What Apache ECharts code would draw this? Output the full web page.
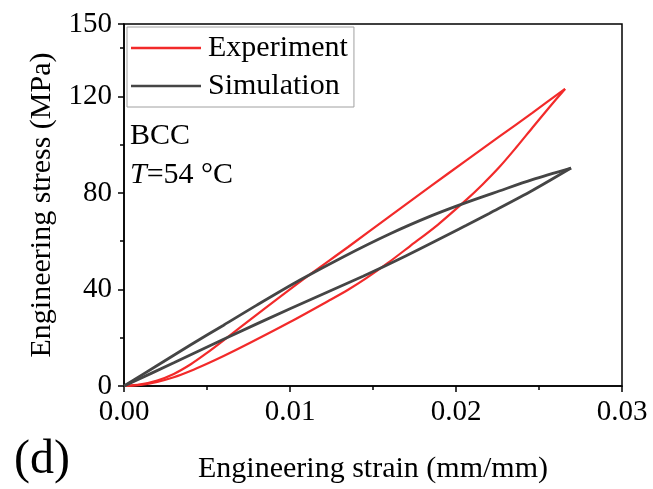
<!DOCTYPE html>
<html>
<head>
<meta charset="utf-8">
<script src="https://cdn.jsdelivr.net/npm/echarts@6/dist/echarts.min.js"></script>
<style>
html,body{margin:0;padding:0;background:#fff;}
#c{width:653px;height:489px;}
</style>
</head>
<body>
<div id="c"></div>
<script>
// ---- data ----
const expLoadStrain   = [0, 0.001, 0.002, 0.003, 0.004, 0.005, 0.006, 0.008, 0.0108, 0.0135, 0.016, 0.0185, 0.0206, 0.0226, 0.0246, 0.02657];
const expLoadStress   = [0, 0.7, 2.3, 5.0, 8.9, 13.7, 18.9, 29.6, 44.2, 57.6, 70.3, 82.9, 93.4, 103.3, 113.2, 123.1];
const expUnloadStrain = [0.02657, 0.0256, 0.0246, 0.0236, 0.0226, 0.0216, 0.0206, 0.0189, 0.0172, 0.0159, 0.0146, 0.0135, 0.0124, 0.01, 0.0076, 0.006, 0.005, 0.004, 0.003, 0.002, 0.001, 0];
const expUnloadStress = [123.1, 115.3, 107.0, 98.6, 90.6, 83.5, 77.0, 66.8, 57.8, 51.0, 44.7, 39.9, 35.6, 26.5, 17.9, 12.4, 9.2, 6.2, 3.6, 1.7, 0.5, 0];
const simLoadStrain   = [0, 0.002, 0.004, 0.006, 0.008, 0.0106, 0.0132, 0.016, 0.0185, 0.0206, 0.0226, 0.0246, 0.02693];
const simLoadStress   = [0, 8.5, 17.0, 25.2, 33.5, 43.9, 53.5, 63.0, 70.5, 76.0, 80.8, 85.5, 90.3];
const simUnloadStrain = [0.02693, 0.0246, 0.022, 0.0206, 0.017, 0.0144, 0.01, 0.006, 0.003, 0];
const simUnloadStress = [90.3, 81.0, 71.5, 66.5, 54.0, 45.5, 32.0, 19.4, 9.6, 0];

const seriesNames = ['Experiment', 'Simulation'];
const xTicks = [0, 0.01, 0.02, 0.03];
const yTicks = [0, 40, 80, 120, 150];
const annotation1 = 'BCC';
const annotation2Var = 'T';
const annotation2Rest = '=54 °C';
const panelLabel = '(d)';
const xTitle = 'Engineering strain (mm/mm)';
const yTitle = 'Engineering stress (MPa)';

const FONT = '"Liberation Serif","Times New Roman",serif';
const RED = '#f22a2a';
const GRAY = '#454545';

function pairs(xs, ys){ return xs.map((x,i)=>[x, ys[i]]); }

const chart = echarts.init(document.getElementById('c'), null, {renderer:'canvas'});

const lineSeries = (name, color, xs, ys, w) => ({
  name, type:'line', data: pairs(xs, ys), showSymbol:false, symbol:'none',
  smooth:0.3, lineStyle:{color, width:w}, itemStyle:{color}, z:3,
  xAxisIndex:0, yAxisIndex:0, animation:false
});

chart.setOption({
  animation:false,
  backgroundColor:'#fff',
  grid:{left:124, right:31, top:24, bottom:102, show:true, borderColor:'#000', borderWidth:1.5, backgroundColor:'transparent'},
  legend:{
    data: seriesNames.map(n=>({name:n})),
    orient:'vertical', left:127, top:27,
    icon:'rect', itemWidth:70, itemHeight:2.5, itemGap:8,
    padding:[6,6,6,4],
    borderColor:'#a0a0a0', borderWidth:1, backgroundColor:'#fff',
    textStyle:{fontFamily:FONT, fontSize:30, color:'#000', lineHeight:30, padding:[0,0,0,2]},
    selectedMode:false
  },
  xAxis:[{
    type:'value', min:xTicks[0], max:xTicks[xTicks.length-1], interval:xTicks[1]-xTicks[0],
    position:'bottom',
    name:xTitle, nameLocation:'middle', nameGap:68,
    nameTextStyle:{fontFamily:FONT, fontSize:30, color:'#000'},
    axisLine:{show:true, onZero:false, lineStyle:{color:'#000', width:1.5}},
    axisTick:{show:true, inside:false, length:6, lineStyle:{color:'#000', width:1.5}},
    minorTick:{show:true, splitNumber:2, length:4, lineStyle:{color:'#000', width:1.5}},
    splitLine:{show:false}, minorSplitLine:{show:false},
    axisLabel:{fontFamily:FONT, fontSize:29, color:'#000', margin:12, formatter:v=>v.toFixed(2)}
  }],
  yAxis:[{
    type:'value', min:0, max:yTicks[yTicks.length-1], interval:yTicks[1]-yTicks[0],
    position:'left',
    name:yTitle, nameLocation:'middle', nameGap:57,
    nameTextStyle:{fontFamily:FONT, fontSize:30, color:'#000'},
    axisLine:{show:true, onZero:false, lineStyle:{color:'#000', width:1.5}},
    axisTick:{show:true, inside:false, length:6, lineStyle:{color:'#000', width:1.5}},
    splitLine:{show:false},
    axisLabel:{fontFamily:FONT, fontSize:29, color:'#000', margin:12,
      formatter:v=> yTicks.indexOf(v) >= 0 ? String(v) : ''}
  },{
    type:'value', min:0, max:yTicks[yTicks.length-1], interval:(yTicks[1]-yTicks[0])/2,
    position:'left', offset:0,
    axisLine:{show:false},
    axisTick:{show:true, inside:false, length:4, lineStyle:{color:'#000', width:1.5}},
    splitLine:{show:false},
    axisLabel:{show:false}
  }],
  graphic:[
    {type:'text', left:130, top:121, style:{text:annotation1, font:'30px '+FONT, fill:'#000'}},
    {type:'text', left:130, top:160, style:{
      text:'{i|'+annotation2Var+'}'+annotation2Rest,
      font:'30px '+FONT, fill:'#000',
      rich:{i:{fontStyle:'italic', fontFamily:FONT, fontSize:30, fill:'#000'}}
    }},
    {type:'text', left:14, top:436, style:{text:panelLabel, font:'48px '+FONT, fill:'#000'}}
  ],
  series:[
    lineSeries(seriesNames[0], RED, expLoadStrain, expLoadStress, 2.2),
    lineSeries(seriesNames[0], RED, expUnloadStrain, expUnloadStress, 2.2),
    lineSeries(seriesNames[1], GRAY, simLoadStrain, simLoadStress, 2.8),
    lineSeries(seriesNames[1], GRAY, simUnloadStrain, simUnloadStress, 2.8)
  ]
});
</script>
</body>
</html>
